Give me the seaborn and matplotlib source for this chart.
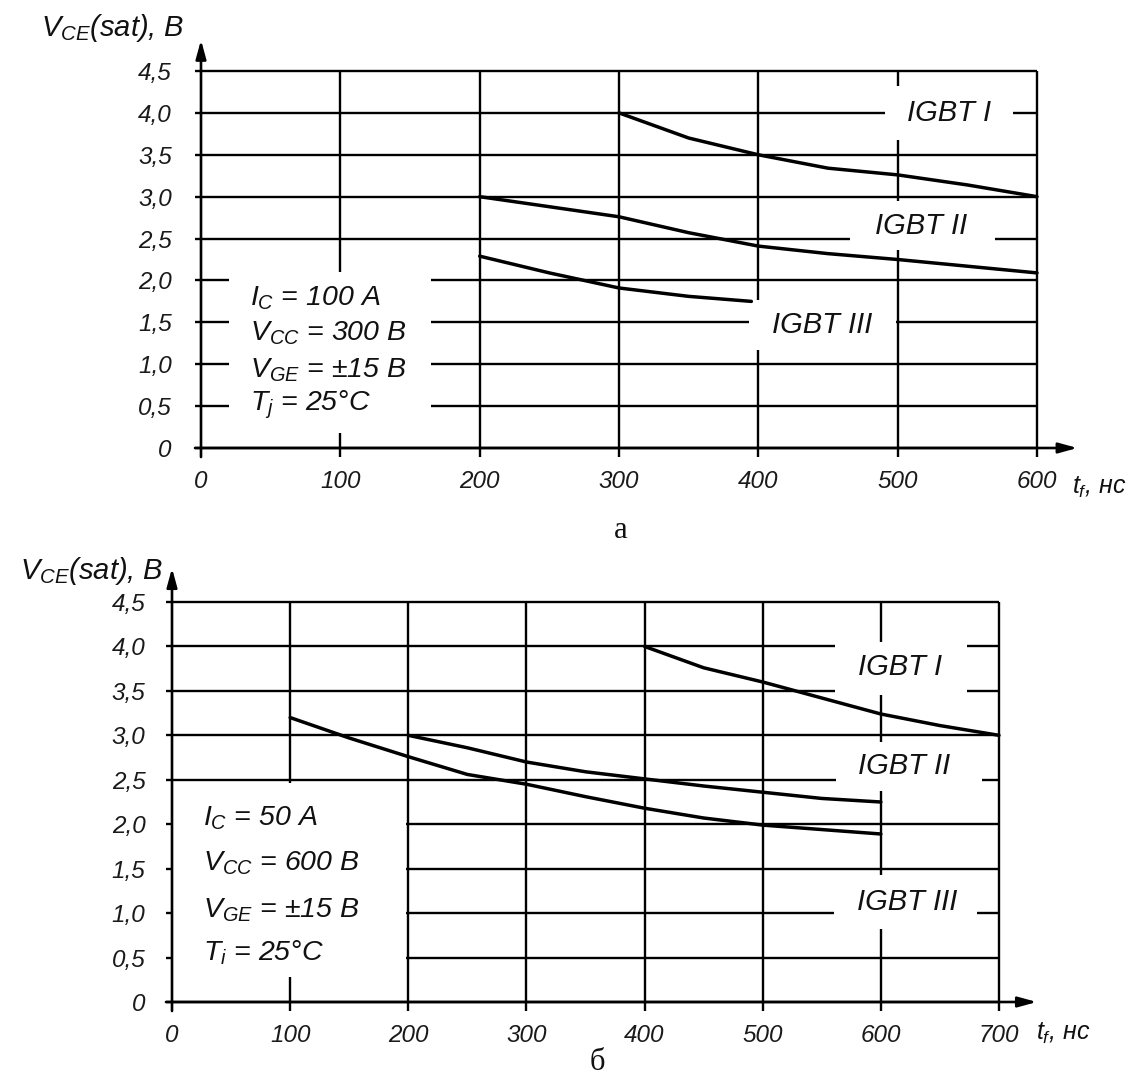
import seaborn as sns
import matplotlib.pyplot as plt
from matplotlib.patches import Rectangle

# chart data
y_ticks = [0, 0.5, 1.0, 1.5, 2.0, 2.5, 3.0, 3.5, 4.0, 4.5]
y_tick_labels = ['0', '0,5', '1,0', '1,5', '2,0', '2,5', '3,0', '3,5', '4,0', '4,5']

# panel a: Ic = 100 A
x_ticks_a = [0, 100, 200, 300, 400, 500, 600]
t_a1 = [300, 350, 400, 450, 500, 550, 600]
v_a1 = [4.0, 3.70, 3.50, 3.34, 3.26, 3.14, 3.0]
t_a2 = [200, 250, 300, 350, 400, 450, 500, 550, 600]
v_a2 = [3.0, 2.88, 2.76, 2.57, 2.41, 2.32, 2.25, 2.17, 2.09]
t_a3 = [200, 250, 300, 350, 395]
v_a3 = [2.29, 2.09, 1.91, 1.81, 1.75]
params_a = [r'$I_C$ = 100 A', r'$V_{CC}$ = 300 В', r'$V_{GE}$ = ±15 В', r'$T_j$ = 25°C']

# panel b: Ic = 50 A
x_ticks_b = [0, 100, 200, 300, 400, 500, 600, 700]
t_b1 = [400, 450, 500, 550, 600, 650, 700]
v_b1 = [4.0, 3.76, 3.60, 3.42, 3.24, 3.11, 3.0]
t_b2 = [200, 250, 300, 350, 400, 450, 500, 550, 600]
v_b2 = [3.0, 2.86, 2.70, 2.59, 2.51, 2.43, 2.36, 2.29, 2.25]
t_b3 = [100, 150, 200, 250, 300, 350, 400, 450, 500, 550, 600]
v_b3 = [3.2, 2.97, 2.76, 2.56, 2.45, 2.31, 2.18, 2.07, 1.99, 1.94, 1.89]
params_b = [r'$I_C$ = 50 A', r'$V_{CC}$ = 600 В', r'$V_{GE}$ = ±15 В', r'$T_i$ = 25°C']

curve_names = ['IGBT I', 'IGBT II', 'IGBT III']

sns.set_style('white')
plt.rcParams['font.family'] = ['Liberation Sans', 'DejaVu Sans']
plt.rcParams['mathtext.fontset'] = 'custom'
plt.rcParams['mathtext.it'] = 'Liberation Sans:italic'
plt.rcParams['mathtext.rm'] = 'Liberation Sans'

W, H = 1141, 1084
fig = plt.figure(figsize=(W / 100, H / 100), dpi=100)
fig.patch.set_facecolor('white')


def make_axes(x0px, sx, y0px, sy, xlim, ylim):
    left = x0px + xlim[0] * sx
    right = x0px + xlim[1] * sx
    top = y0px - ylim[1] * sy
    bottom = y0px - ylim[0] * sy
    ax = fig.add_axes([left / W, 1 - bottom / H, (right - left) / W, (bottom - top) / H])
    ax.set_xlim(xlim)
    ax.set_ylim(ylim)
    ax.set_facecolor('none')
    return ax


def draw_panel(ax, xmax, xticks, curves, params, boxes, labels, par_x, par_y,
               sx, sy, arrow_x, arrow_y, ylab_pos, xlab_pos, cap, cap_pos, pads):
    ext_x = 6 / sx
    ext_y = 9 / sy
    # grid
    ax.hlines(y_ticks, -ext_x, xmax, color='black', lw=1.7, zorder=1)
    ax.vlines(xticks[1:], -ext_y, 4.5, color='black', lw=1.7, zorder=1)
    # white gaps behind texts
    for (x0, x1, y0, y1) in boxes:
        ax.add_patch(Rectangle((x0, y0), x1 - x0, y1 - y0, fc='white', ec='none', zorder=2))
    # curves
    for t, v in curves:
        sns.lineplot(x=t, y=v, ax=ax, color='black', lw=2.5, estimator=None,
                     sort=False, zorder=3)
    # axes with arrows
    arr = dict(arrowstyle='-|>,head_length=0.8,head_width=0.22', color='black',
               lw=1.9, mutation_scale=14, shrinkA=0, shrinkB=0)
    ax.annotate('', xy=(0, arrow_y), xytext=(0, -ext_y), arrowprops=arr, zorder=4)
    ax.annotate('', xy=(arrow_x, 0), xytext=(-ext_x, 0), arrowprops=arr, zorder=4)
    # ticks
    for s in ax.spines.values():
        s.set_visible(False)
    ax.spines['left'].set_position(('data', 0))
    ax.spines['bottom'].set_position(('data', 0))
    ax.set_xticks(xticks)
    ax.set_xticklabels([str(x) for x in xticks])
    ax.set_yticks(y_ticks)
    ax.set_yticklabels(y_tick_labels)
    ax.tick_params(axis='x', length=0, pad=pads[0], labelsize=17.5, labelcolor='#1a1a1a')
    ax.tick_params(axis='y', length=0, pad=pads[1], labelsize=17.5, labelcolor='#1a1a1a')
    for lab in ax.get_xticklabels() + ax.get_yticklabels():
        lab.set_fontstyle('italic')
    ax.set_xlabel('')
    ax.set_ylabel('')
    # curve names
    for name, (x, y) in zip(curve_names, labels):
        ax.text(x, y, name, ha='center', va='center', fontsize=21, fontstyle='italic',
                color='#111111', zorder=5)
    # conditions
    for line, y in zip(params, par_y):
        ax.text(par_x, y, line, ha='left', va='center', fontsize=20.5, fontstyle='italic',
                color='#111111', zorder=5)
    ax.text(ylab_pos[0], ylab_pos[1], r'$V_{CE}$(sat), В', ha='right', va='center',
            fontsize=21, fontstyle='italic', color='#111111')
    ax.text(xlab_pos[0], xlab_pos[1], r'$t_f$, нс', ha='left', va='center',
            fontsize=18, fontstyle='italic', color='#111111')
    ax.text(cap_pos[0], cap_pos[1], cap, ha='center', va='center', fontsize=22,
            family='Liberation Serif', color='#111111')


# panel a geometry: data 0 at x=201px, 600 at 1037px; 0 at y=448px, 4.5 at 71px
sx_a = (1037 - 201) / 600
sy_a = (448 - 71) / 4.5
ax_a = make_axes(201, sx_a, 448, sy_a, (-40, 660), (-0.35, 5.1))
draw_panel(
    ax_a, 600, x_ticks_a,
    [(t_a1, v_a1), (t_a2, v_a2), (t_a3, v_a3)], params_a,
    boxes=[(491, 583, 3.68, 4.32), (466, 570, 2.36, 2.95), (393, 499, 1.17, 1.77),
           (20, 165, 0.18, 2.10)],
    labels=[(537, 4.0), (517, 2.65), (446, 1.47)],
    par_x=35, par_y=[1.79, 1.37, 0.93, 0.51],
    sx=sx_a, sy=sy_a, arrow_x=629, arrow_y=4.87,
    ylab_pos=(-12, 5.01), xlab_pos=(625, -0.47),
    cap='а', cap_pos=(301, -0.98), pads=(16, 21))

# panel b geometry: data 0 at x=172px, 700 at 999px; 0 at y=1002px, 4.5 at 602px
sx_b = (999 - 172) / 700
sy_b = (1002 - 602) / 4.5
ax_b = make_axes(172, sx_b, 1002, sy_b, (-40, 780), (-0.45, 5.0))
draw_panel(
    ax_b, 700, x_ticks_b,
    [(t_b1, v_b1), (t_b2, v_b2), (t_b3, v_b3)], params_b,
    boxes=[(561, 673, 3.45, 4.05), (562, 686, 2.37, 2.93), (560, 681, 0.82, 1.43),
           (1, 198, 0.28, 2.46)],
    labels=[(616, 3.77), (620, 2.66), (622, 1.13)],
    par_x=26, par_y=[2.07, 1.56, 1.03, 0.55],
    sx=sx_b, sy=sy_b, arrow_x=732, arrow_y=4.88,
    ylab_pos=(-7, 4.85), xlab_pos=(731, -0.35),
    cap='б', cap_pos=(360, -0.68), pads=(16, 19))

fig.savefig('out.png', dpi=100)
